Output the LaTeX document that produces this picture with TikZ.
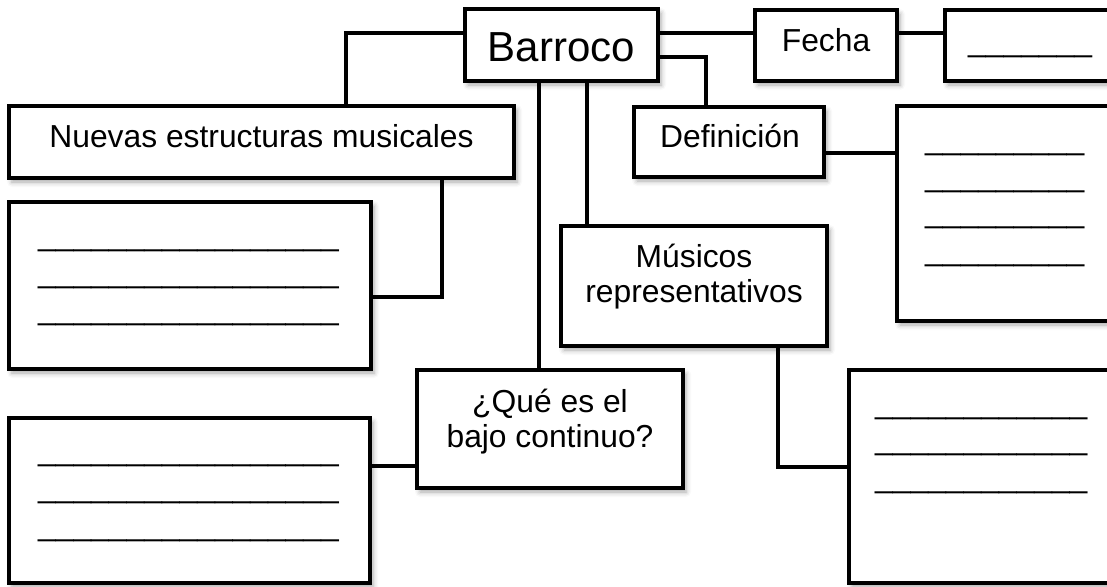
\documentclass[tikz,border=0pt]{standalone}
\usepackage{fontspec}
\setmainfont{Liberation Sans}
\usetikzlibrary{shadows.blur}
\tikzset{
  box/.style={draw=black, line width=4pt, fill=white, rectangle, inner sep=0pt,
    blur shadow={shadow xshift=3pt, shadow yshift=-4pt, shadow blur radius=5pt, shadow opacity=35}},
  conn/.style={draw=black, line width=3.5pt},
  lbl/.style={inner sep=0pt, anchor=base, font=\fontsize{31.8}{36}\selectfont},
  big/.style={inner sep=0pt, anchor=base, font=\fontsize{42}{48}\selectfont},
  blank/.style={inner sep=0pt, anchor=base west, font=\fontsize{31.8}{36}\selectfont}
}
\begin{document}
\begin{tikzpicture}[x=1pt,y=-1pt]
\path[use as bounding box] (0,0) rectangle (1107,586);
\clip (0,0) rectangle (1107,586);
% boxes
\node[box, minimum width=193pt, minimum height=72pt] (barroco) at (561.5,45) {};
\node[box, minimum width=142pt, minimum height=71pt] (fecha) at (826,45.5) {};
\node[box, minimum width=167pt, minimum height=71pt] (fechab) at (1028.5,45.5) {};
\node[box, minimum width=505pt, minimum height=72pt] (nuevas) at (261.5,142) {};
\node[box, minimum width=362pt, minimum height=167pt] (nuevasb) at (190,285.5) {};
\node[box, minimum width=190pt, minimum height=70pt] (def) at (729,142) {};
\node[box, minimum width=215pt, minimum height=215pt] (defb) at (1004.5,213.5) {};
\node[box, minimum width=266pt, minimum height=120pt] (mus) at (694,286) {};
\node[box, minimum width=263pt, minimum height=213pt] (musb) at (980.5,476.5) {};
\node[box, minimum width=266pt, minimum height=118pt] (que) at (550,429) {};
\node[box, minimum width=361pt, minimum height=165pt] (queb) at (189.5,500.5) {};
% connectors
\draw[conn] ([yshift=12pt]barroco.west) -| ([xshift=84.5pt]nuevas.north);
\draw[conn] ([yshift=12pt]barroco.east) -- ([yshift=12pt]barroco.east -| fecha.west);
\draw[conn] ([yshift=12.5pt]fecha.east) -- ([yshift=12.5pt]fecha.east -| fechab.west);
\draw[conn] ([yshift=-12pt]barroco.east) -| ([xshift=-23pt]def.north);
\draw[conn] ([xshift=-22.5pt]barroco.south) -- ([xshift=-22.5pt]barroco.south |- que.north);
\draw[conn] ([xshift=25.5pt]barroco.south) -- ([xshift=25.5pt]barroco.south |- mus.north);
\draw[conn] ([xshift=180.5pt]nuevas.south) |- ([yshift=-11.5pt]nuevasb.east);
\draw[conn] ([yshift=-11pt]def.east) -- ([yshift=-11pt]def.east -| defb.west);
\draw[conn] ([xshift=84pt]mus.south) |- ([yshift=9.5pt]musb.west);
\draw[conn] ([yshift=-37pt]que.west) -- ([yshift=-37pt]que.west -| queb.east);
% texts
\node[big] (tbarroco) at (561.5,62) {Barroco};
\node[lbl] (tfecha) at (826,52) {Fecha};
\node[lbl] (tnuevas) at (261.5,147) {Nuevas estructuras musicales};
\node[lbl] (tdef) at (730,147) {Definición};
\node[lbl] (tmusa) at (694,267) {Músicos};
\node[lbl] (tmusb) at (694,302) {representativos};
\node[lbl] (tquea) at (550,412) {¿Qué es el};
\node[lbl] (tqueb) at (550,447) {bajo continuo?};
% blanks
\node[blank] (bf) at (968,52) {\_\_\_\_\_\_\_};
\node[blank] (bn1) at (38,245) {\_\_\_\_\_\_\_\_\_\_\_\_\_\_\_\_\_};
\node[blank] (bn2) at (38,282) {\_\_\_\_\_\_\_\_\_\_\_\_\_\_\_\_\_};
\node[blank] (bn3) at (38,319) {\_\_\_\_\_\_\_\_\_\_\_\_\_\_\_\_\_};
\node[blank] (bq1) at (38,460) {\_\_\_\_\_\_\_\_\_\_\_\_\_\_\_\_\_};
\node[blank] (bq2) at (38,497) {\_\_\_\_\_\_\_\_\_\_\_\_\_\_\_\_\_};
\node[blank] (bq3) at (38,535) {\_\_\_\_\_\_\_\_\_\_\_\_\_\_\_\_\_};
\node[blank] (bd1) at (925,149) {\_\_\_\_\_\_\_\_\_};
\node[blank] (bd2) at (925,186) {\_\_\_\_\_\_\_\_\_};
\node[blank] (bd3) at (925,222) {\_\_\_\_\_\_\_\_\_};
\node[blank] (bd4) at (925,260) {\_\_\_\_\_\_\_\_\_};
\node[blank] (bm1) at (875,413) {\_\_\_\_\_\_\_\_\_\_\_\_};
\node[blank] (bm2) at (875,449) {\_\_\_\_\_\_\_\_\_\_\_\_};
\node[blank] (bm3) at (875,487) {\_\_\_\_\_\_\_\_\_\_\_\_};
\end{tikzpicture}
\end{document}
